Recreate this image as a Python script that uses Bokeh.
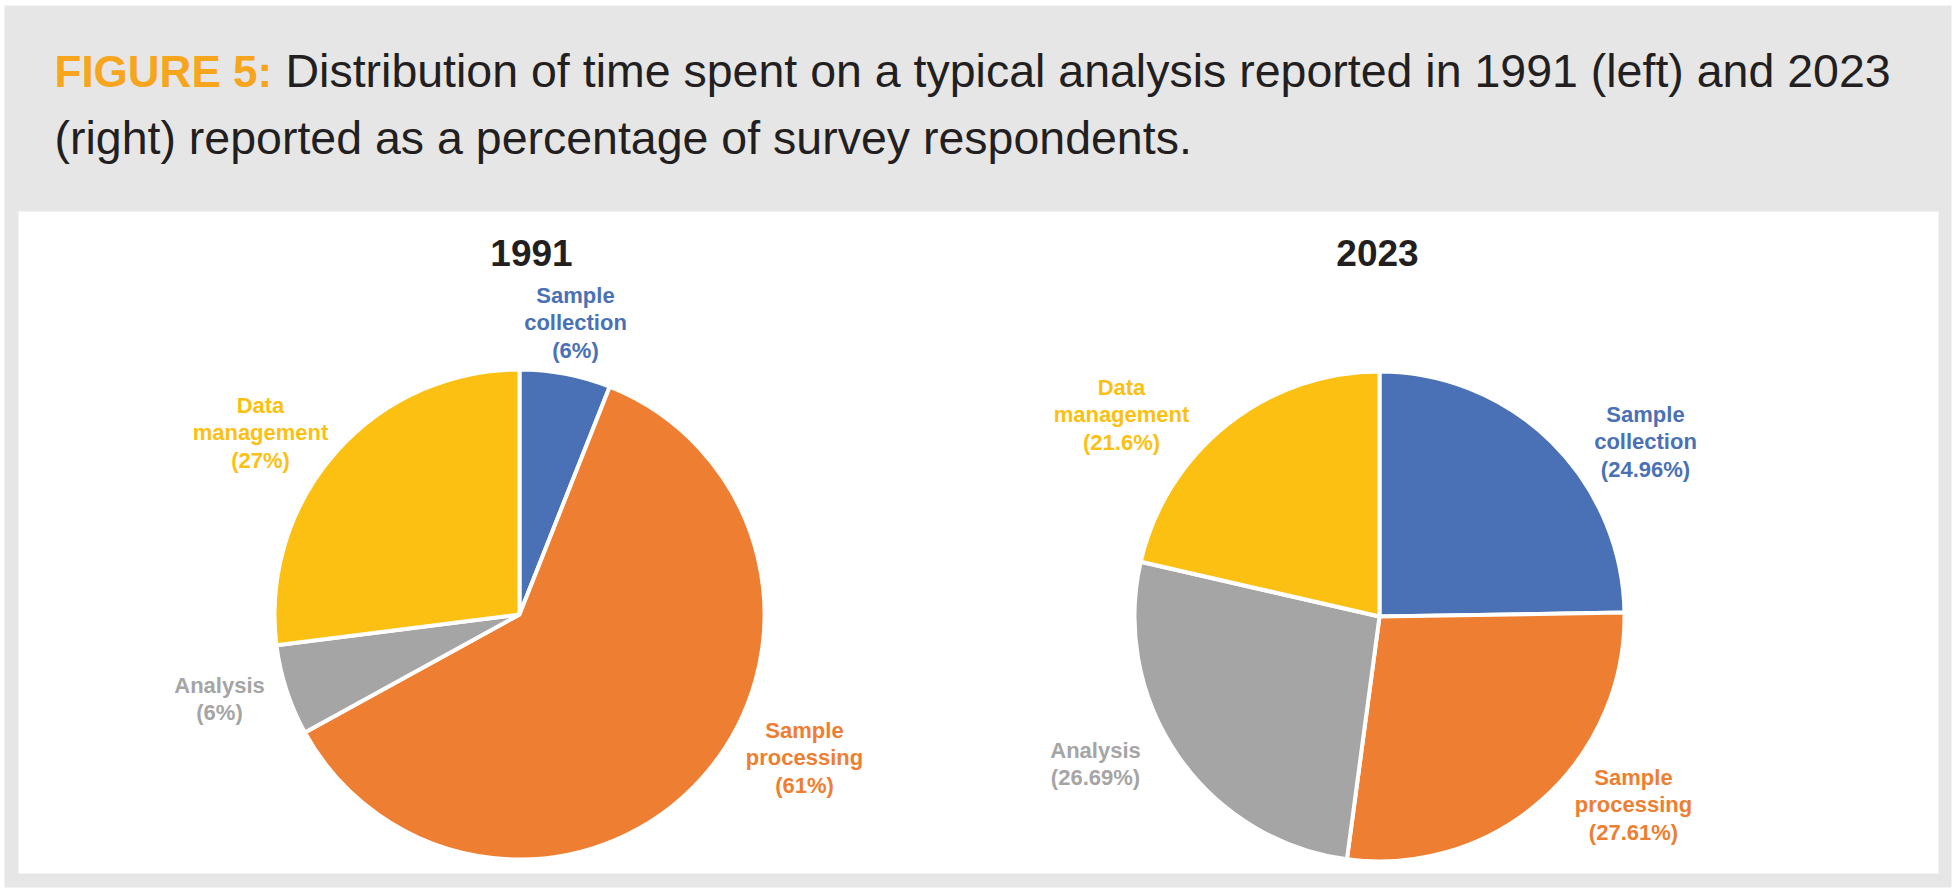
import math
from bokeh.plotting import figure
from bokeh.models import ColumnDataSource, Range1d
from bokeh.core.properties import value
from bokeh.embed import file_html
from bokeh.resources import INLINE

# ---------------- data ----------------
categories = ["Sample collection", "Sample processing", "Analysis", "Data management"]
values_1991 = [6, 61, 6, 27]
values_2023 = [24.96, 27.61, 26.69, 21.6]
years = ["1991", "2023"]
colors = ["#4a71b6", "#ee7e31", "#a5a5a5", "#fcc013"]
title_prefix = "FIGURE 5:"
title_lines = ["Distribution of time spent on a typical analysis reported in 1991 (left) and 2023",
               "(right) reported as a percentage of survey respondents."]

# ---------------- layout (page pixel coordinates) ----------------
W, H = 1952, 888
FONT = "Liberation Sans"
BASE_SHIFT = 0.38  # empirical baseline correction (fraction of font size)
pies = [
    dict(cx=519, cy=614, r=245, title_x=531, title_y=267,
         label_pos=[(575, 303), (804, 738), (219, 693), (260, 413)]),
    dict(cx=1379, cy=616, r=245, title_x=1377, title_y=267,
         label_pos=[(1645, 422), (1633, 785), (1095, 758), (1121, 395)]),
]
LINE_STEP = 27.5


def ty(y, fs):
    return -(y - BASE_SHIFT * fs)


p = figure(width=W, height=H, output_backend="svg", toolbar_location=None,
           x_axis_type=None, y_axis_type=None,
           x_range=Range1d(0, W), y_range=Range1d(-H, 0),
           min_border=0, background_fill_color="white",
           border_fill_color="white", outline_line_color=None)
p.grid.visible = False

# gray frame and white panel
p.quad(left=[4], right=[1951], top=[-5], bottom=[-887],
       fill_color="#e6e6e6", line_color=None)
p.quad(left=[18], right=[1938], top=[-211], bottom=[-873],
       fill_color="white", line_color=None)

# title
p.text(x=[54], y=[ty(88, 44)], text=[title_prefix], text_font=value(FONT),
       text_font_style="bold", text_font_size="44px", text_color="#f7a51c",
       text_baseline="alphabetic", text_align="left")
p.text(x=[285, 54], y=[ty(88, 46.5), ty(155, 46.5)], text=title_lines,
       text_font=value(FONT), text_font_size="46.5px", text_color="#231f20",
       text_baseline="alphabetic", text_align="left")

for year, vals, cfg in zip(years, [values_1991, values_2023], pies):
    total = sum(vals)
    starts, ends = [], []
    cum = 0.0
    for v in vals:
        starts.append(math.pi / 2 - 2 * math.pi * cum / total)
        cum += v
        ends.append(math.pi / 2 - 2 * math.pi * cum / total)
    src = ColumnDataSource(dict(start=starts, end=ends, color=colors,
                                x=[cfg["cx"]] * len(vals),
                                y=[-cfg["cy"]] * len(vals)))
    p.wedge(x="x", y="y", radius=cfg["r"], start_angle="start", end_angle="end",
            direction="clock", fill_color="color", line_color="white",
            line_width=4, source=src)
    # year title
    p.text(x=[cfg["title_x"]], y=[ty(cfg["title_y"], 37)], text=[year],
           text_font=value(FONT), text_font_style="bold", text_font_size="37px",
           text_color="#231f20", text_align="center", text_baseline="alphabetic")
    # labels
    lx, ly, lt, lc = [], [], [], []
    for cat, v, col, (px, py) in zip(categories, vals, colors, cfg["label_pos"]):
        words = cat.split(" ", 1)
        lines = words + ["(%s%%)" % format(v, "g")]
        for i, ln in enumerate(lines):
            lx.append(px)
            ly.append(ty(py + i * LINE_STEP, 22))
            lt.append(ln)
            lc.append(col)
    p.text(x=lx, y=ly, text=lt, text_color=lc, text_font=value(FONT),
           text_font_style="bold", text_font_size="22px",
           text_align="center", text_baseline="alphabetic")

open("out.html", "w").write(file_html(p, INLINE))
